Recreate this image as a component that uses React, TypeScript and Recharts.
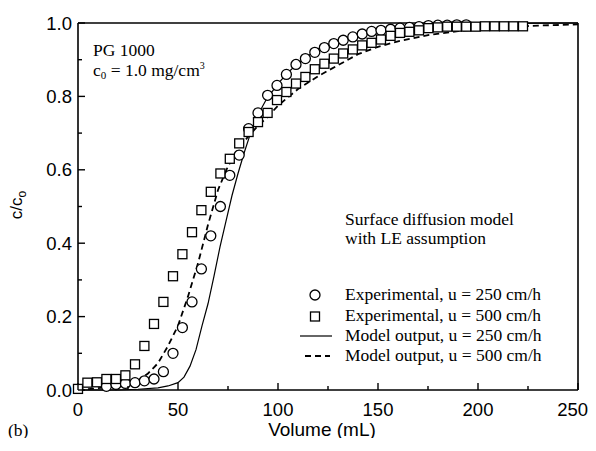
import React from "react";
import { ScatterChart, Scatter, XAxis, YAxis } from "recharts";

// experimental points, u = 250 cm/h (circles)
const exp250 = [
  [14.2, 0.01], [19, 0.015], [23.7, 0.018], [28.5, 0.02], [33.2, 0.025], [38, 0.03],
  [42.7, 0.05], [47.5, 0.1], [52.2, 0.17], [57, 0.24], [61.7, 0.33], [66.4, 0.42],
  [71.2, 0.5], [75.9, 0.585], [80.6, 0.64], [85.3, 0.712], [90, 0.755], [94.8, 0.803],
  [99.5, 0.83], [104.2, 0.86], [109, 0.887], [113.7, 0.903], [118.4, 0.92], [123.2, 0.933],
  [127.9, 0.944], [132.6, 0.953], [137.4, 0.962], [142.1, 0.97], [146.8, 0.977],
  [151.5, 0.98], [156.3, 0.983], [161, 0.986], [165.7, 0.988], [170.5, 0.99],
  [175.2, 0.993], [179.9, 0.994], [184.6, 0.994], [189.4, 0.995], [194.1, 0.995]
].map(([v, c]) => ({ v, c }));

// experimental points, u = 500 cm/h (squares)
const exp500 = [
  [0, 0.003], [4.7, 0.02], [9.5, 0.021], [14.2, 0.03], [19, 0.03], [23.7, 0.04],
  [28.5, 0.07], [33.2, 0.12], [38, 0.18], [42.7, 0.24], [47.5, 0.31], [52.2, 0.37],
  [57, 0.43], [61.7, 0.49], [66.4, 0.54], [71.2, 0.59], [75.9, 0.63], [80.6, 0.672],
  [85.3, 0.703], [90, 0.73], [94.8, 0.755], [99.5, 0.79], [104.2, 0.812], [109, 0.835],
  [113.7, 0.853], [118.4, 0.874], [123.2, 0.889], [127.9, 0.903], [132.6, 0.917],
  [137.4, 0.928], [142.1, 0.939], [146.8, 0.946], [151.5, 0.955], [156.3, 0.965],
  [161, 0.973], [165.7, 0.976], [170.5, 0.98], [175.2, 0.986], [179.9, 0.988],
  [184.6, 0.99], [189.4, 0.99], [194.1, 0.99], [198.8, 0.99], [203.5, 0.991],
  [208.3, 0.991], [213, 0.991], [217.7, 0.991], [222.5, 0.991]
].map(([v, c]) => ({ v, c }));

// model output, u = 250 cm/h (solid)
const model250 = [
  [0, 0], [20, 0], [30, 0.002], [40, 0.006], [45, 0.011], [50, 0.02], [53, 0.035],
  [56, 0.065], [59, 0.11], [62, 0.175], [65, 0.235], [68, 0.31], [71, 0.39], [74, 0.46],
  [77, 0.53], [80, 0.59], [83, 0.645], [86, 0.695], [90, 0.75], [94, 0.79], [100, 0.835],
  [105, 0.865], [110, 0.89], [115, 0.91], [120, 0.93], [130, 0.953], [140, 0.97],
  [150, 0.98], [160, 0.988], [175, 0.994], [190, 0.997], [210, 0.999], [250, 1.0]
].map(([v, c]) => ({ v, c }));

// model output, u = 500 cm/h (dashed)
const model500 = [
  [0, 0], [10, 0.005], [20, 0.01], [25, 0.014], [30, 0.025], [35, 0.045], [40, 0.073],
  [45, 0.12], [50, 0.175], [55, 0.255], [60, 0.345], [65, 0.45], [70, 0.545], [75, 0.61],
  [80, 0.655], [85, 0.69], [90, 0.72], [95, 0.745], [100, 0.775], [110, 0.82], [120, 0.855],
  [130, 0.885], [140, 0.915], [150, 0.935], [160, 0.95], [175, 0.967], [190, 0.978],
  [210, 0.988], [230, 0.993], [250, 0.996]
].map(([v, c]) => ({ v, c }));

const xMajor = [0, 50, 100, 150, 200, 250];
const xMinor = [25, 75, 125, 175, 225];
const yMajor = [0, 0.2, 0.4, 0.6, 0.8, 1.0];
const yMinor = [0.1, 0.3, 0.5, 0.7, 0.9];

const xTicks = [...xMajor, ...xMinor].sort((a, b) => a - b);
const yTicks = [...yMajor, ...yMinor].sort((a, b) => a - b);

const SANS = "'Liberation Sans', Arial, sans-serif";
const SERIF = "'Liberation Serif', 'Times New Roman', serif";

const W = 588;
const H = 430;

function makeTick(side: "bottom" | "top" | "left" | "right") {
  return (props: any) => {
    const { x, y, payload } = props;
    const val = payload.value;
    const major = side === "bottom" || side === "top" ? xMajor.includes(val) : yMajor.some((m) => Math.abs(m - val) < 1e-6);
    const len = major ? 7 : 4;
    let line;
    if (side === "bottom") line = <line x1={x} y1={y} x2={x} y2={y - len} />;
    else if (side === "top") line = <line x1={x} y1={y} x2={x} y2={y + len} />;
    else if (side === "left") line = <line x1={x} y1={y} x2={x + len} y2={y} />;
    else line = <line x1={x} y1={y} x2={x - len} y2={y} />;
    // keep the last label inside the page edge
    const last = side === "bottom" && val === xMajor[xMajor.length - 1];
    return (
      <g stroke="#000" strokeWidth={1.4}>
        {line}
        {major && side === "bottom" && (
          <text
            x={last ? x + 10 : x}
            y={y + 26}
            textAnchor={last ? "end" : "middle"}
            fontFamily={SANS}
            fontSize={18.5}
            fill="#000"
            stroke="none"
          >
            {val}
          </text>
        )}
        {major && side === "left" && (
          <text x={x - 6} y={y + 6.5} textAnchor="end" fontFamily={SANS} fontSize={18.5} fill="#000" stroke="none">
            {val.toFixed(1)}
          </text>
        )}
      </g>
    );
  };
}

const circleShape = (p: any) => <circle cx={p.cx} cy={p.cy} r={5} fill="#fff" stroke="#000" strokeWidth={1.3} />;
const squareShape = (p: any) => (
  <rect x={p.cx - 4.5} y={p.cy - 4.5} width={9} height={9} fill="#fff" stroke="#000" strokeWidth={1.3} />
);
const noShape = () => <g />;

export default function App() {
  return (
    <div style={{ position: "relative", width: W, height: H }}>
      <ScatterChart
        width={W}
        height={H}
        margin={{ top: 11, right: 14, bottom: 18, left: 10 }}
        style={{ overflow: "visible" }}
      >
        <XAxis
          dataKey="v"
          type="number"
          domain={[0, 250]}
          ticks={xTicks}
          interval={0}
          height={30}
          tickSize={0}
          tickMargin={0}
          tickLine={false}
          axisLine={{ stroke: "#000", strokeWidth: 1.6 }}
          tick={makeTick("bottom")}
        />
        <XAxis
          xAxisId="top"
          orientation="top"
          dataKey="v"
          type="number"
          domain={[0, 250]}
          ticks={xTicks}
          interval={0}
          height={4}
          tickSize={0}
          tickMargin={0}
          tickLine={false}
          axisLine={{ stroke: "#000", strokeWidth: 1.6 }}
          tick={makeTick("top")}
        />
        <YAxis
          dataKey="c"
          type="number"
          domain={[0, 1]}
          ticks={yTicks}
          interval={0}
          width={60}
          tickSize={0}
          tickMargin={0}
          tickLine={false}
          axisLine={{ stroke: "#000", strokeWidth: 1.6 }}
          tick={makeTick("left")}
        />
        <YAxis
          yAxisId="right"
          orientation="right"
          dataKey="c"
          type="number"
          domain={[0, 1]}
          ticks={yTicks}
          interval={0}
          width={4}
          tickSize={0}
          tickMargin={0}
          tickLine={false}
          axisLine={{ stroke: "#000", strokeWidth: 1.6 }}
          tick={makeTick("right")}
        />
        <Scatter
          data={model250}
          line={{ stroke: "#000", strokeWidth: 1.2 }}
          lineType="joint"
          shape={noShape}
          isAnimationActive={false}
        />
        <Scatter
          data={model500}
          line={{ stroke: "#000", strokeWidth: 1.8, strokeDasharray: "6 4" }}
          lineType="joint"
          shape={noShape}
          isAnimationActive={false}
        />
        <Scatter data={exp250} shape={circleShape} isAnimationActive={false} />
        <Scatter data={exp500} shape={squareShape} isAnimationActive={false} />
      </ScatterChart>
      <svg
        width={W}
        height={H}
        style={{ position: "absolute", left: 0, top: 0, pointerEvents: "none", overflow: "visible" }}
      >
        <g fontFamily={SERIF} fontSize={17.5} fill="#000">
          <text x={85} y={48}>PG 1000</text>
          <text x={85} y={68}>
            c<tspan fontSize={11} dy={3}>0</tspan>
            <tspan dy={-3}> = 1.0 mg/cm</tspan>
            <tspan fontSize={10} dy={-7}>3</tspan>
          </text>
          <text x={337} y={217}>Surface diffusion model</text>
          <text x={337} y={236}>with LE assumption</text>
          <text x={337} y={292}>Experimental, u = 250 cm/h</text>
          <text x={337} y={313}>Experimental, u = 500 cm/h</text>
          <text x={337} y={333}>Model output, u = 250 cm/h</text>
          <text x={337} y={353}>Model output,  u = 500 cm/h</text>
          <text x={0} y={428}>(b)</text>
        </g>
        <circle cx={307} cy={287} r={5} fill="#fff" stroke="#000" strokeWidth={1.3} />
        <rect x={302.5} y={304} width={9} height={9} fill="#fff" stroke="#000" strokeWidth={1.3} />
        <line x1={292} y1={328} x2={324} y2={328} stroke="#000" strokeWidth={1.2} />
        <line x1={297} y1={348} x2={322} y2={348} stroke="#000" strokeWidth={1.8} strokeDasharray="6 4" />
        <text x={314} y={428} textAnchor="middle" fontFamily={SANS} fontSize={19} fill="#000">
          Volume (mL)
        </text>
        <text
          transform="translate(14,197) rotate(-90)"
          textAnchor="middle"
          fontFamily={SANS}
          fontSize={17}
          fill="#000"
        >
          c/c<tspan fontSize={12} dy={4}>o</tspan>
        </text>
      </svg>
    </div>
  );
}
